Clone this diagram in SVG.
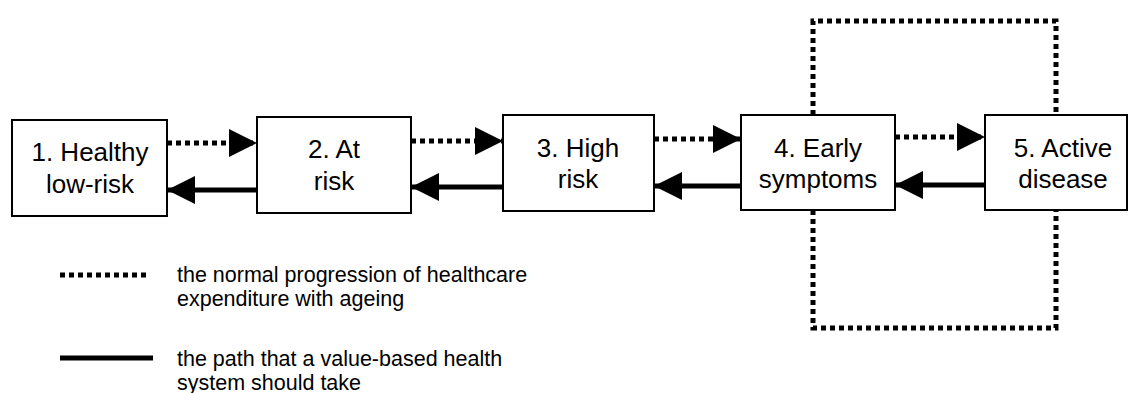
<svg xmlns="http://www.w3.org/2000/svg" width="1129" height="393" viewBox="0 0 1129 393">
  <style>
    .box { fill: #fff; stroke: #000; stroke-width: 2; }
    .lbl { font-family: "Liberation Sans", Arial, sans-serif; font-size: 26px; fill: #000; text-anchor: middle; }
    .leg { font-family: "Liberation Sans", Arial, sans-serif; font-size: 21.5px; fill: #000; }
    .dot { fill: none; stroke: #000; stroke-width: 5; stroke-dasharray: 5 4; }
    .solid { fill: none; stroke: #000; stroke-width: 5; }
  </style>
  <defs>
    <marker id="head" markerUnits="userSpaceOnUse" markerWidth="28" markerHeight="28" refX="28" refY="14" orient="auto" viewBox="0 0 28 28">
      <path d="M0,0 L28,14 L0,28 Z" fill="#000"/>
    </marker>
  </defs>
  <rect width="1129" height="393" fill="#fff"/>

  <!-- connectors -->
  <g id="connectors">
    <!-- forward (dotted) progression -->
    <line class="dot" x1="167" y1="143" x2="257" y2="143" marker-end="url(#head)"/>
    <line class="dot" x1="411" y1="141" x2="503" y2="141" marker-end="url(#head)"/>
    <line class="dot" x1="654" y1="139" x2="741" y2="139" marker-end="url(#head)"/>
    <line class="dot" x1="895" y1="137" x2="985" y2="137" marker-end="url(#head)"/>
    <!-- backward (solid) path -->
    <line class="solid" x1="257" y1="190" x2="167" y2="190" marker-end="url(#head)"/>
    <line class="solid" x1="503" y1="187" x2="411" y2="187" marker-end="url(#head)"/>
    <line class="solid" x1="741" y1="186" x2="654" y2="186" marker-end="url(#head)"/>
    <line class="solid" x1="985" y1="185" x2="895" y2="185" marker-end="url(#head)"/>
    <!-- loop around stages 4 and 5 -->
    <path class="dot" d="M813,115 V21 H1056 V115"/>
    <path class="dot" d="M813,210 V328 H1056 V210"/>
  </g>

  <g id="n1">
    <rect class="box" x="12" y="120" width="155" height="96"/>
    <text class="lbl" x="90" y="161">1. Healthy</text>
    <text class="lbl" x="90" y="193">low-risk</text>
  </g>
  <g id="n2">
    <rect class="box" x="257" y="117" width="154" height="96"/>
    <text class="lbl" x="334" y="158">2. At</text>
    <text class="lbl" x="334" y="190">risk</text>
  </g>
  <g id="n3">
    <rect class="box" x="503" y="115" width="151" height="96"/>
    <text class="lbl" x="578" y="157">3. High</text>
    <text class="lbl" x="578" y="188">risk</text>
  </g>
  <g id="n4">
    <rect class="box" x="741" y="115" width="154" height="95"/>
    <text class="lbl" x="818" y="157">4. Early</text>
    <text class="lbl" x="818" y="188">symptoms</text>
  </g>
  <g id="n5">
    <rect class="box" x="985" y="115" width="142" height="95"/>
    <text class="lbl" x="1063" y="157">5. Active</text>
    <text class="lbl" x="1063" y="188">disease</text>
  </g>

  <g id="legend">
    <line class="dot" x1="60" y1="275" x2="148" y2="275"/>
    <text class="leg" x="177" y="282">the normal progression of healthcare</text>
    <text class="leg" x="177" y="306">expenditure with ageing</text>
    <line class="solid" x1="60" y1="358" x2="153" y2="358"/>
    <text class="leg" x="177" y="366">the path that a value-based health</text>
    <text class="leg" x="177" y="390">system should take</text>
  </g>
</svg>
